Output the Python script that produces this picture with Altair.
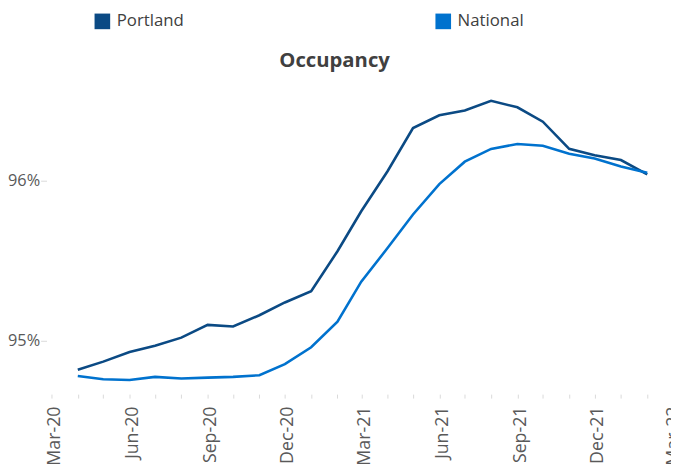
import altair as alt
import pandas as pd

months = ["2020-04-01", "2020-05-01", "2020-06-01", "2020-07-01", "2020-08-01", "2020-09-01",
          "2020-10-01", "2020-11-01", "2020-12-01", "2021-01-01", "2021-02-01", "2021-03-01",
          "2021-04-01", "2021-05-01", "2021-06-01", "2021-07-01", "2021-08-01", "2021-09-01",
          "2021-10-01", "2021-11-01", "2021-12-01", "2022-01-01", "2022-02-01"]
portland = [94.82, 94.87, 94.93, 94.97, 95.02, 95.10, 95.09, 95.16, 95.24, 95.31, 95.56, 95.81,
            96.06, 96.33, 96.41, 96.44, 96.50, 96.46, 96.37, 96.20, 96.16, 96.13, 96.04]
national = [94.78, 94.76, 94.755, 94.775, 94.765, 94.77, 94.775, 94.785, 94.855, 94.96, 95.12, 95.37,
            95.58, 95.79, 95.98, 96.12, 96.20, 96.23, 96.22, 96.17, 96.14, 96.09, 96.05]
series = ["Portland", "National"]
colors = ["#0B4A84", "#0072CE"]
y_ticks = [95, 96]

df = pd.DataFrame({
    "month": months * 2,
    "value": portland + national,
    "series": [series[0]] * len(months) + [series[1]] * len(months),
})

FONT = "Open Sans"
color_scale = alt.Scale(domain=series, range=colors)

x_enc = alt.X("month:T",
              scale=alt.Scale(type="utc",
                              domain=[alt.DateTime(year=2020, month=3, date=1, utc=True),
                                      alt.DateTime(year=2022, month=3, date=1, utc=True)]),
              axis=alt.Axis(title=None, domain=False, grid=False,
                            tickCount={"interval": "month", "step": 1},
                            tickColor="#D9D9D9", tickSize=4, tickWidth=1,
                            labelAngle=270, labelPadding=8, labelOffset=3, labelOverlap=False,
                            labelFont=FONT, labelFontSize=18, labelColor="#595959",
                            labelExpr="utcmonth(datum.value) % 3 == 2 ? utcFormat(datum.value, '%b-%y') : ''"))
y_enc = alt.Y("value:Q",
              scale=alt.Scale(domain=[94.667, 96.6], zero=False, nice=False),
              axis=alt.Axis(title=None, domain=False, grid=False, values=y_ticks,
                            tickColor="#D9D9D9", tickSize=6, offset=5, labelPadding=1,
                            labelFont=FONT, labelFontSize=16.5, labelColor="#595959",
                            labelExpr="format(datum.value, '.0f') + '%'"))

leg = alt.Legend(orient="none", legendX=43, legendY=-73,
                 direction="horizontal", columns=2, title=None,
                 padding=0, columnPadding=253,
                 symbolType="square", symbolSize=250,
                 symbolStrokeWidth=0,
                 labelFont=FONT, labelFontSize=17, labelColor="#404040",
                 labelOffset=6)

base = alt.Chart(df)

lines = base.mark_line(strokeWidth=2.6).encode(
    x=x_enc, y=y_enc,
    color=alt.Color("series:N", scale=color_scale, legend=leg),
)

legend_layer = base.transform_filter(alt.datum.value < 0).mark_square(filled=True, opacity=1).encode(
    x=x_enc, y=y_enc,
    color=alt.Color("series:N", scale=color_scale, legend=leg),
)

chart = alt.layer(lines, legend_layer).properties(
    width=627,
    height=313,
    title=alt.TitleParams("Occupancy", font=FONT, fontSize=20.5, fontWeight="bold",
                          color="#404040", anchor="middle", dx=-27, offset=-75,
                          baseline="alphabetic"),
    autosize=alt.AutoSizeParams(type="none"),
    padding={"left": 44, "top": 75, "right": 0, "bottom": 75},
).configure_view(stroke=None)

chart.save("out.html", embed_options={"renderer": "svg", "actions": False})
